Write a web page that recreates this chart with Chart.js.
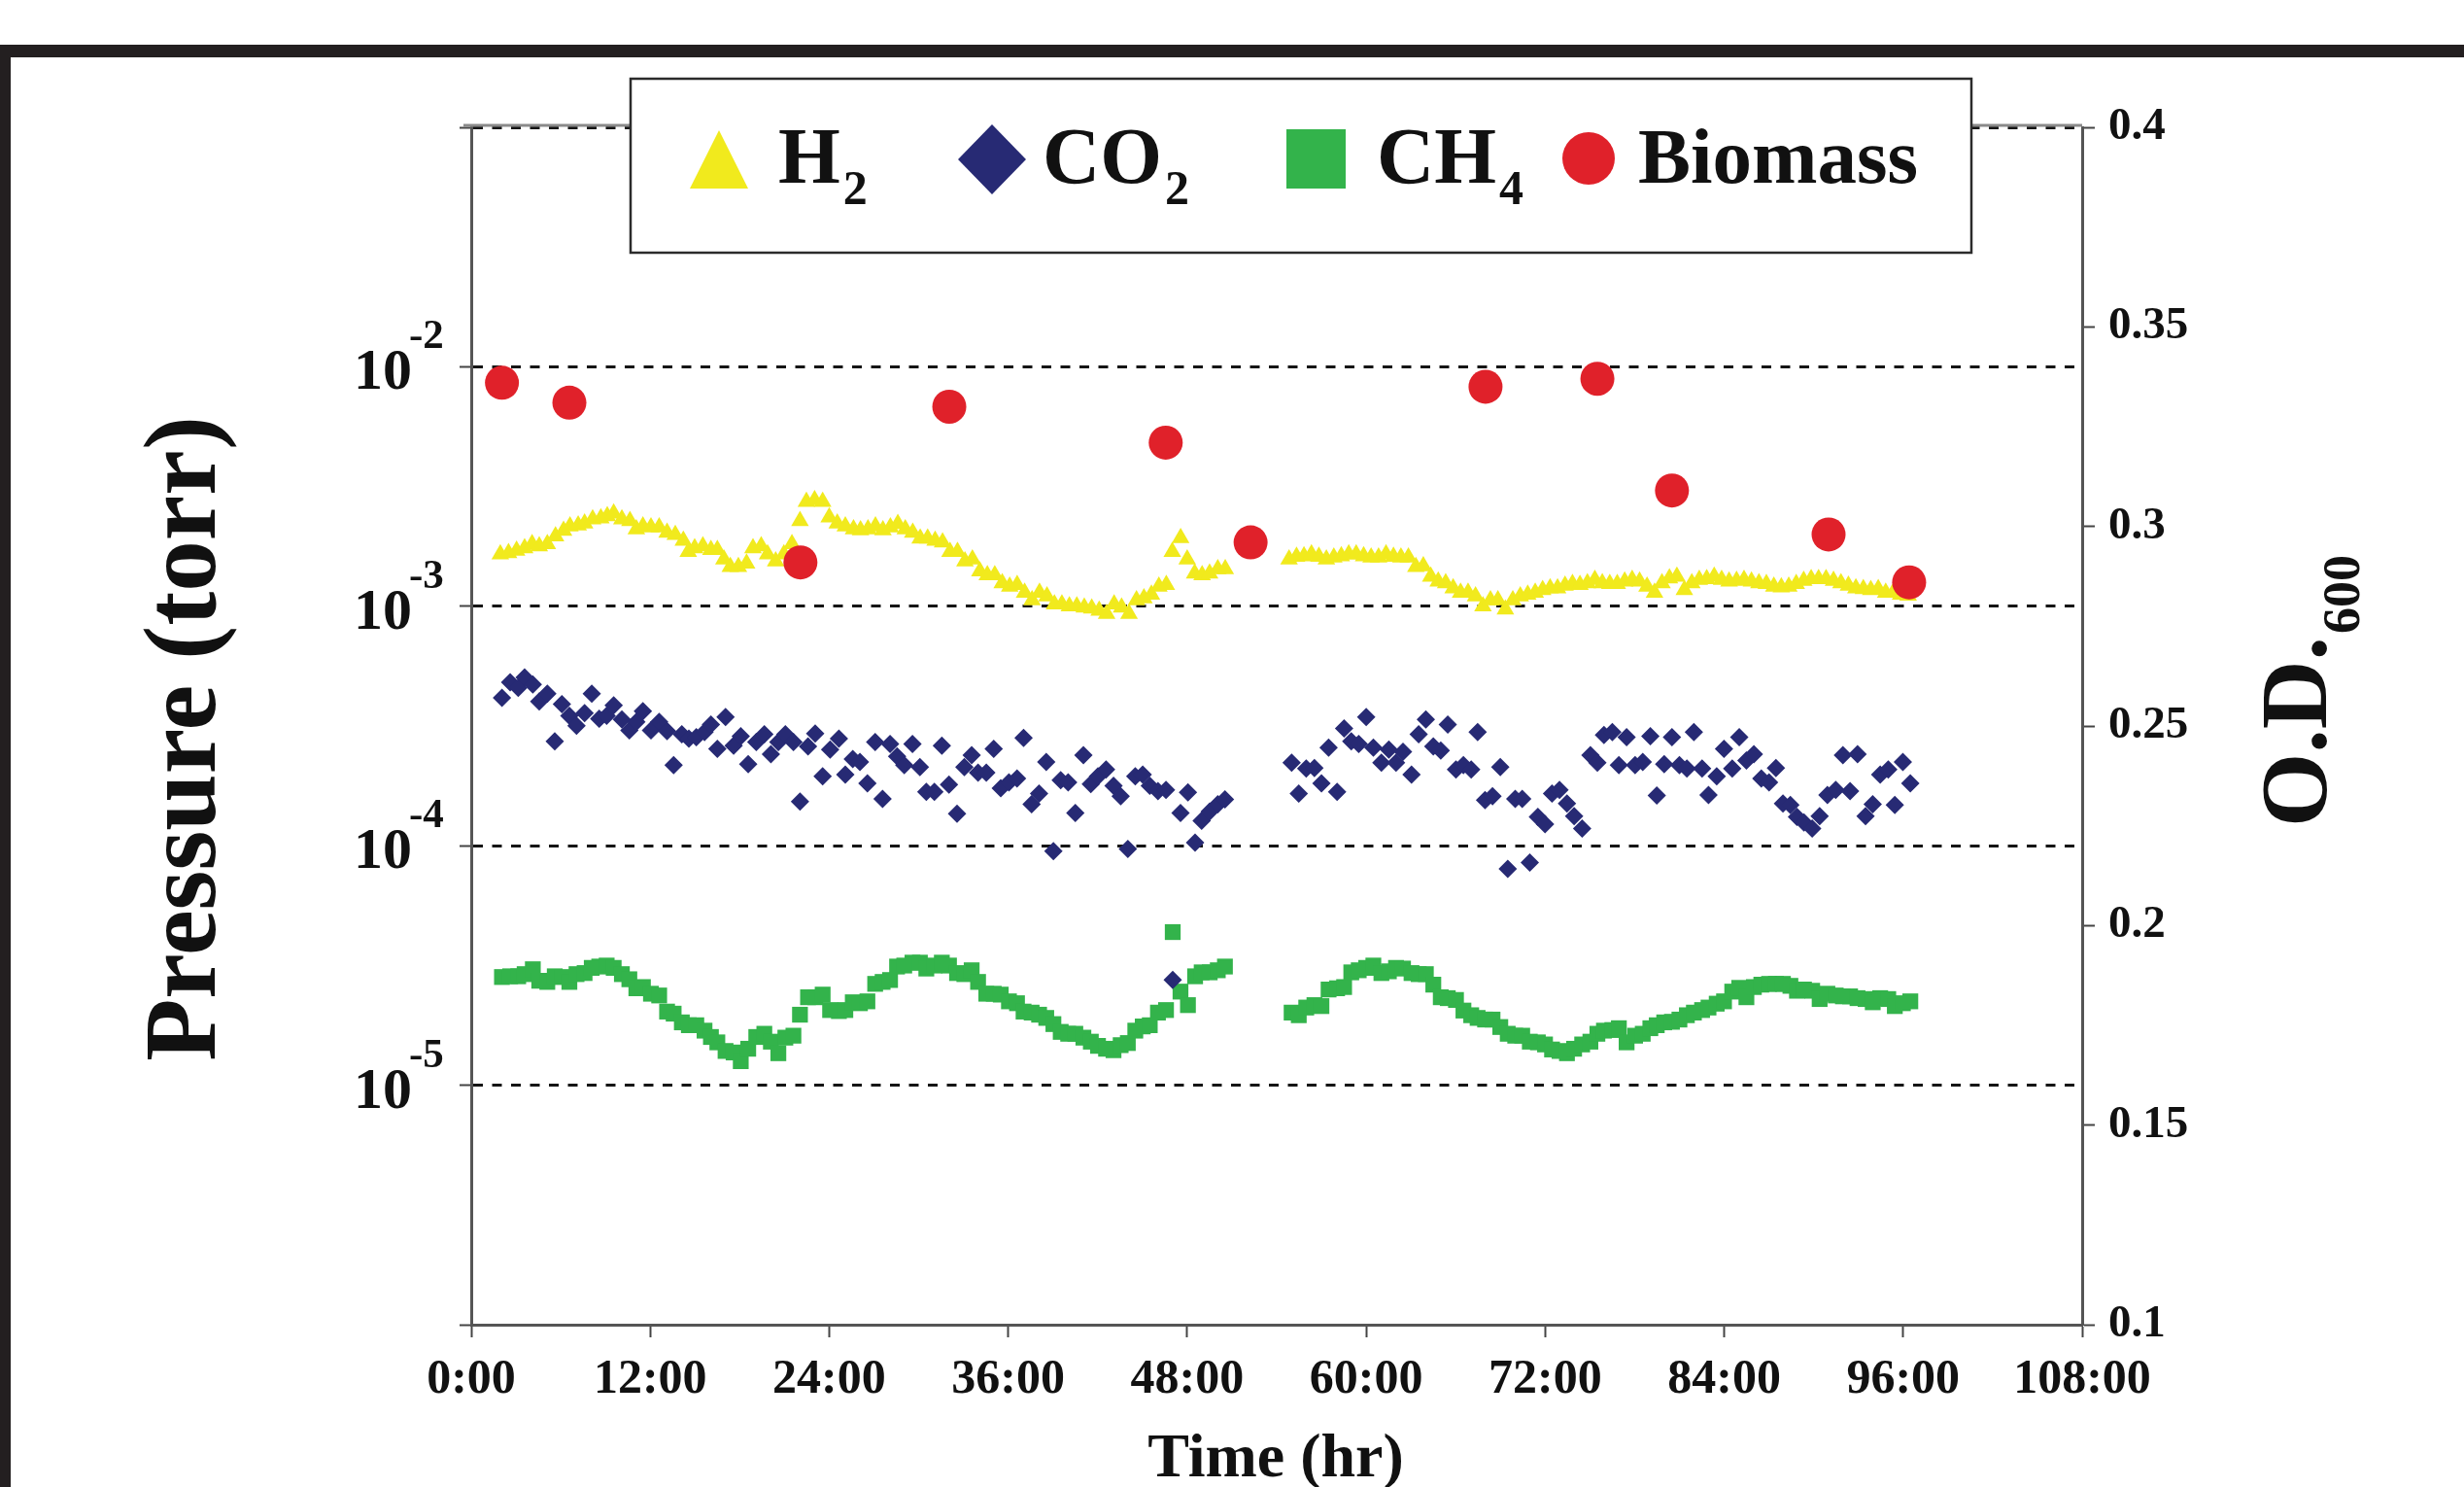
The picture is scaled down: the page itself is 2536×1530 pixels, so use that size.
<!DOCTYPE html>
<html>
<head>
<meta charset="utf-8">
<title>Pressure and biomass vs time</title>
<script src="https://cdn.jsdelivr.net/npm/chart.js@4.4.1/dist/chart.umd.min.js"></script>
<style>
  html, body { margin: 0; padding: 0; background: #fff; overflow: hidden; }
  canvas { display: block; }
</style>
</head>
<body>
<canvas id="chart" width="2536" height="1530"></canvas>
<script>
// time in hours, pressure in torr, biomass as O.D.600
const h2Time = [
  1.95,2.5,3.04,3.58,4.08,4.56,5.1,5.65,6.19,6.62,7.17,7.6,8.14,8.69,9.12,9.55,10.1,10.64,11.07,11.51,
  12.05,12.6,13.13,13.68,14.22,14.55,14.98,15.53,16.07,16.5,16.94,17.37,17.91,18.46,18.89,19.44,19.87,20.41,20.96,21.5,
  22.04,22.47,23.02,23.56,24.0,24.54,25.08,25.63,
  26.1,26.6,27.1,27.6,28.1,28.6,29.1,29.6,30.1,30.6,31.1,31.6,32.1,32.6,33.1,33.6,34.1,34.6,35.1,35.6,
  36.1,36.6,37.1,37.6,38.1,38.6,39.1,39.6,40.1,40.6,41.1,41.6,42.1,42.6,43.1,43.6,44.1,44.6,45.1,45.6,
  46.1,46.6,47.0,47.56,48.0,48.5,49.0,49.5,50.05,50.55,
  54.83,55.33,55.83,56.33,56.83,57.33,57.83,58.33,58.83,59.33,59.83,60.33,60.83,61.33,61.83,62.33,62.83,63.33,63.83,64.33,
  64.83,65.33,65.83,66.33,66.83,67.33,67.83,68.33,68.83,69.33,69.83,70.33,70.83,71.33,71.83,72.33,72.83,73.33,73.83,74.33,
  74.83,75.33,75.83,76.33,76.83,
  77.33,77.83,78.33,78.83,79.33,79.83,80.33,80.83,81.33,81.83,82.33,82.83,83.33,83.83,84.33,84.83,85.33,85.83,86.33,86.83,
  87.33,87.83,88.33,88.83,89.33,89.83,90.33,90.83,91.33,91.83,92.33,92.83,93.33,93.83,94.33,94.83,95.33,95.83,96.33
];
const h2Torr = [
  1.65e-3,1.67e-3,1.71e-3,1.75e-3,1.82e-3,1.78e-3,1.82e-3,1.96e-3,2.07e-3,2.16e-3,2.18e-3,2.22e-3,2.31e-3,2.33e-3,2.38e-3,2.44e-3,2.31e-3,2.27e-3,2.10e-3,2.16e-3,
  2.14e-3,2.14e-3,2.03e-3,1.99e-3,1.88e-3,1.69e-3,1.75e-3,1.78e-3,1.72e-3,1.72e-3,1.57e-3,1.46e-3,1.46e-3,1.51e-3,1.75e-3,1.78e-3,1.65e-3,1.54e-3,1.65e-3,1.82e-3,
  2.27e-3,2.73e-3,2.78e-3,2.73e-3,2.35e-3,2.22e-3,2.16e-3,2.10e-3,
  2.08e-3,2.10e-3,2.16e-3,2.08e-3,2.14e-3,2.21e-3,2.10e-3,2.03e-3,1.92e-3,1.92e-3,1.88e-3,1.85e-3,1.69e-3,1.69e-3,1.54e-3,1.57e-3,1.40e-3,1.35e-3,1.35e-3,1.25e-3,
  1.21e-3,1.23e-3,1.14e-3,1.06e-3,1.14e-3,1.10e-3,1.02e-3,1.02e-3,1.00e-3,1.00e-3,0.99e-3,0.98e-3,0.96e-3,0.93e-3,1.02e-3,0.99e-3,0.93e-3,1.06e-3,1.08e-3,1.12e-3,
  1.21e-3,1.23e-3,1.69e-3,1.93e-3,1.57e-3,1.37e-3,1.35e-3,1.37e-3,1.43e-3,1.43e-3,
  1.57e-3,1.61e-3,1.62e-3,1.65e-3,1.61e-3,1.57e-3,1.60e-3,1.62e-3,1.65e-3,1.65e-3,1.62e-3,1.60e-3,1.60e-3,1.65e-3,1.61e-3,1.60e-3,1.60e-3,1.46e-3,1.47e-3,1.33e-3,
  1.27e-3,1.25e-3,1.19e-3,1.14e-3,1.14e-3,1.10e-3,1.00e-3,1.06e-3,1.06e-3,0.97e-3,1.06e-3,1.10e-3,1.12e-3,1.14e-3,1.17e-3,1.19e-3,1.19e-3,1.22e-3,1.24e-3,1.23e-3,
  1.25e-3,1.29e-3,1.25e-3,1.24e-3,1.24e-3,
  1.27e-3,1.29e-3,1.27e-3,1.21e-3,1.14e-3,1.25e-3,1.31e-3,1.33e-3,1.17e-3,1.25e-3,1.29e-3,1.30e-3,1.33e-3,1.29e-3,1.27e-3,1.28e-3,1.29e-3,1.27e-3,1.25e-3,1.24e-3,
  1.21e-3,1.20e-3,1.21e-3,1.24e-3,1.28e-3,1.30e-3,1.30e-3,1.30e-3,1.28e-3,1.25e-3,1.22e-3,1.19e-3,1.18e-3,1.17e-3,1.18e-3,1.14e-3,1.14e-3,1.12e-3,1.11e-3
];

// CO2 and CH4 were sampled at the same times
const gasTime = [
  2.06,2.61,3.15,3.58,4.13,4.56,5.1,5.6,6.08,6.58,7.06,7.6,8.08,8.58,9.08,9.55,10.1,10.6,11.07,11.51,
  12.05,12.6,13.13,13.57,14.12,14.59,15.09,15.64,16.07,16.5,17.05,17.59,18.07,18.57,19.11,19.65,20.09,20.59,21.06,21.6,
  22.04,22.58,23.06,23.56,24.06,24.65,25.08,25.58,
  26.06,26.56,27.08,27.58,28.08,28.55,29.03,29.58,30.08,30.51,31.05,31.55,32.03,32.57,33.06,33.55,33.98,34.53,35.03,35.5,
  36.05,36.59,37.03,37.57,38.07,38.55,39.03,39.52,40.02,40.5,41.04,41.54,42.02,42.56,43.06,43.54,44.02,44.52,45.02,45.49,
  46.04,46.58,47.03,47.55,48.05,48.53,48.97,49.51,50.05,50.53,
  55.0,55.48,55.98,56.53,57.0,57.48,58.05,58.52,59.0,59.5,60.0,60.48,61.02,61.52,62.0,62.47,63.04,63.52,64.0,64.5,
  65.0,65.47,66.02,66.52,67.04,67.47,67.97,68.47,68.99,69.49,69.99,70.46,70.97,71.51,71.99,72.46,72.96,73.46,73.94,74.48,
  75.03,75.5,75.94,76.5,76.94,
  77.46,78.03,78.54,79.05,79.48,79.98,80.5,81.0,81.5,81.97,82.52,82.95,83.5,83.99,84.54,85.01,85.49,85.99,86.49,87.01,
  87.47,87.94,88.44,88.88,89.35,89.9,90.4,90.92,91.48,91.96,92.44,92.94,93.48,93.96,94.46,95.0,95.44,95.98,96.48
];
const co2Torr = [
  4.15e-4,4.81e-4,4.56e-4,5.05e-4,4.72e-4,4.00e-4,4.31e-4,2.73e-4,3.90e-4,3.49e-4,3.17e-4,3.58e-4,4.31e-4,3.39e-4,3.49e-4,3.86e-4,3.37e-4,3.03e-4,3.29e-4,3.65e-4,
  3.03e-4,3.29e-4,3.01e-4,2.17e-4,2.92e-4,2.80e-4,2.84e-4,2.98e-4,3.21e-4,2.54e-4,3.45e-4,2.62e-4,2.87e-4,2.19e-4,2.71e-4,2.92e-4,2.41e-4,2.71e-4,2.92e-4,2.71e-4,
  1.53e-4,2.60e-4,2.94e-4,1.95e-4,2.52e-4,2.80e-4,1.98e-4,2.30e-4,
  2.24e-4,1.82e-4,2.71e-4,1.57e-4,2.66e-4,2.36e-4,2.17e-4,2.66e-4,2.13e-4,1.68e-4,1.68e-4,2.62e-4,1.80e-4,1.36e-4,2.13e-4,2.39e-4,2.02e-4,2.02e-4,2.54e-4,1.74e-4,
  1.84e-4,1.91e-4,2.82e-4,1.49e-4,1.65e-4,2.24e-4,0.95e-4,1.88e-4,1.84e-4,1.37e-4,2.39e-4,1.81e-4,1.95e-4,2.08e-4,1.78e-4,1.61e-4,0.97e-4,1.95e-4,1.98e-4,1.78e-4,
  1.69e-4,1.71e-4,2.75e-5,1.37e-4,1.67e-4,1.03e-4,1.27e-4,1.39e-4,1.49e-4,1.56e-4,
  2.22e-4,1.65e-4,2.10e-4,2.11e-4,1.82e-4,2.57e-4,1.68e-4,3.09e-4,2.73e-4,2.66e-4,3.45e-4,2.57e-4,2.22e-4,2.52e-4,2.22e-4,2.47e-4,1.98e-4,2.92e-4,3.37e-4,2.60e-4,
  2.50e-4,3.21e-4,2.08e-4,2.17e-4,2.08e-4,2.98e-4,1.55e-4,1.61e-4,2.13e-4,0.80e-4,1.57e-4,1.57e-4,0.85e-4,1.32e-4,1.23e-4,1.65e-4,1.71e-4,1.50e-4,1.33e-4,1.18e-4,
  2.39e-4,2.22e-4,2.90e-4,2.98e-4,2.17e-4,
  2.84e-4,2.17e-4,2.24e-4,2.87e-4,1.62e-4,2.19e-4,2.84e-4,2.17e-4,2.10e-4,2.98e-4,2.10e-4,1.63e-4,1.95e-4,2.54e-4,2.10e-4,2.84e-4,2.27e-4,2.41e-4,1.91e-4,1.84e-4,
  2.11e-4,1.50e-4,1.48e-4,1.32e-4,1.25e-4,1.18e-4,1.33e-4,1.63e-4,1.71e-4,2.39e-4,1.69e-4,2.41e-4,1.33e-4,1.49e-4,1.98e-4,2.08e-4,1.48e-4,2.24e-4,1.82e-4
];
const ch4Torr = [
  2.83e-5,2.85e-5,2.85e-5,2.91e-5,3.05e-5,2.73e-5,2.70e-5,2.85e-5,2.83e-5,2.70e-5,2.91e-5,2.94e-5,3.09e-5,3.13e-5,3.16e-5,3.09e-5,2.91e-5,2.77e-5,2.54e-5,2.57e-5,
  2.41e-5,2.37e-5,2.03e-5,1.99e-5,1.83e-5,1.78e-5,1.78e-5,1.69e-5,1.59e-5,1.51e-5,1.39e-5,1.37e-5,1.26e-5,1.42e-5,1.59e-5,1.64e-5,1.52e-5,1.36e-5,1.58e-5,1.61e-5,
  1.97e-5,2.33e-5,2.33e-5,2.39e-5,2.06e-5,2.04e-5,2.06e-5,2.22e-5,
  2.20e-5,2.24e-5,2.65e-5,2.70e-5,2.75e-5,3.13e-5,3.16e-5,3.25e-5,3.25e-5,3.07e-5,3.16e-5,3.25e-5,3.16e-5,2.94e-5,2.91e-5,3.02e-5,2.70e-5,2.41e-5,2.41e-5,2.39e-5,
  2.24e-5,2.20e-5,2.03e-5,2.01e-5,1.97e-5,1.91e-5,1.80e-5,1.67e-5,1.64e-5,1.64e-5,1.58e-5,1.52e-5,1.46e-5,1.42e-5,1.40e-5,1.47e-5,1.50e-5,1.69e-5,1.76e-5,1.78e-5,
  2.01e-5,2.06e-5,4.36e-5,2.46e-5,2.16e-5,2.85e-5,2.96e-5,2.96e-5,3.02e-5,3.13e-5,
  2.01e-5,1.96e-5,2.11e-5,2.16e-5,2.14e-5,2.51e-5,2.54e-5,2.57e-5,2.96e-5,3.02e-5,3.09e-5,3.16e-5,2.94e-5,2.99e-5,3.09e-5,3.07e-5,2.94e-5,2.91e-5,2.91e-5,2.63e-5,
  2.33e-5,2.31e-5,2.27e-5,2.05e-5,1.96e-5,1.91e-5,1.88e-5,1.88e-5,1.75e-5,1.64e-5,1.61e-5,1.61e-5,1.52e-5,1.51e-5,1.48e-5,1.41e-5,1.39e-5,1.36e-5,1.42e-5,1.48e-5,
  1.52e-5,1.64e-5,1.69e-5,1.70e-5,1.73e-5,
  1.51e-5,1.61e-5,1.64e-5,1.73e-5,1.78e-5,1.83e-5,1.84e-5,1.88e-5,1.96e-5,2.01e-5,2.06e-5,2.11e-5,2.19e-5,2.24e-5,2.46e-5,2.55e-5,2.33e-5,2.57e-5,2.63e-5,2.65e-5,
  2.65e-5,2.65e-5,2.60e-5,2.48e-5,2.51e-5,2.48e-5,2.29e-5,2.41e-5,2.37e-5,2.35e-5,2.35e-5,2.31e-5,2.29e-5,2.22e-5,2.31e-5,2.29e-5,2.14e-5,2.20e-5,2.24e-5
];

const biomassTime = [2.06, 6.58, 22.07, 32.05, 46.56, 52.25, 68.0, 75.5, 80.5, 91.0, 96.4];
const biomassOD = [0.336, 0.331, 0.291, 0.330, 0.321, 0.296, 0.335, 0.337, 0.309, 0.298, 0.286];

const pressureDecades = [1e-6, 1e-5, 1e-4, 1e-3, 1e-2, 1e-1];
const labelledExponents = [-2, -3, -4, -5];

const SERIF = '"Liberation Serif", "Times New Roman", serif';
const YELLOW = '#F1EA1D', NAVY = '#272A74', GREEN = '#33B34B', RED = '#E0212A';

function pairs(xs, ys) {
  return xs.map((x, i) => ({ x: x, y: ys[i] }));
}

// text with a subscript or superscript tail
function drawWithTail(ctx, main, tail, x, y, mainSize, tailSize, dy) {
  ctx.font = 'bold ' + mainSize + 'px ' + SERIF;
  ctx.fillText(main, x, y);
  const w = ctx.measureText(main).width;
  ctx.font = 'bold ' + tailSize + 'px ' + SERIF;
  ctx.fillText(tail, x + w + 3, y + dy);
}

const decor = {
  id: 'decor',
  afterDraw(chart) {
    const ctx = chart.ctx;
    const area = chart.chartArea;
    const yScale = chart.scales.y;
    ctx.save();

    // frame bars of the original figure
    ctx.fillStyle = '#231f20';
    ctx.fillRect(0, 46, 2536, 13);
    ctx.fillRect(0, 46, 11, 1484);

    // top edge of plot
    ctx.strokeStyle = '#8a8a8a';
    ctx.lineWidth = 3;
    ctx.beginPath();
    ctx.moveTo(area.left - 8, area.top - 2);
    ctx.lineTo(area.right, area.top - 2);
    ctx.stroke();

    ctx.fillStyle = '#111';
    ctx.textAlign = 'left';
    ctx.textBaseline = 'alphabetic';

    // left tick labels: 10 with superscript exponent
    labelledExponents.forEach(e => {
      const py = yScale.getPixelForValue(Math.pow(10, e));
      ctx.font = 'bold 60px ' + SERIF;
      ctx.textAlign = 'right';
      ctx.fillText('10', 424, py + 23);
      ctx.textAlign = 'left';
      ctx.font = 'bold 43px ' + SERIF;
      ctx.fillText(String(e), 421, py - 19);
    });

    // left axis title
    ctx.save();
    ctx.translate(194, 760);
    ctx.rotate(-Math.PI / 2);
    ctx.textAlign = 'center';
    ctx.textBaseline = 'middle';
    ctx.font = 'bold 105px ' + SERIF;
    ctx.fillText('Pressure (torr)', 0, 0);
    ctx.restore();

    // right axis title
    ctx.save();
    ctx.translate(2394, 851);
    ctx.rotate(-Math.PI / 2);
    drawWithTail(ctx, 'O.D.', '600', 0, 0, 98, 54, 34);
    ctx.restore();

    // x axis title
    ctx.textAlign = 'center';
    ctx.font = 'bold 64px ' + SERIF;
    ctx.fillText('Time (hr)', 1313, 1519);

    // legend box
    ctx.fillStyle = '#fff';
    ctx.fillRect(649, 81, 1380, 179);
    ctx.strokeStyle = '#2b2b2b';
    ctx.lineWidth = 2.5;
    ctx.strokeRect(649, 81, 1380, 179);

    ctx.fillStyle = YELLOW;
    ctx.beginPath();
    ctx.moveTo(740, 134); ctx.lineTo(770, 194); ctx.lineTo(710, 194);
    ctx.closePath(); ctx.fill();

    ctx.fillStyle = NAVY;
    ctx.beginPath();
    ctx.moveTo(1021, 128); ctx.lineTo(1056, 164); ctx.lineTo(1021, 200); ctx.lineTo(986, 164);
    ctx.closePath(); ctx.fill();

    ctx.fillStyle = GREEN;
    ctx.fillRect(1324, 133, 61, 61);

    ctx.fillStyle = RED;
    ctx.beginPath();
    ctx.arc(1635, 163, 27, 0, Math.PI * 2);
    ctx.fill();

    ctx.fillStyle = '#111';
    ctx.textAlign = 'left';
    drawWithTail(ctx, 'H', '2', 801, 188, 82, 50, 22);
    drawWithTail(ctx, 'CO', '2', 1073, 188, 82, 50, 22);
    drawWithTail(ctx, 'CH', '4', 1417, 188, 82, 50, 22);
    ctx.font = 'bold 81px ' + SERIF;
    ctx.fillText('Biomass', 1686, 188);

    ctx.restore();
  }
};

new Chart(document.getElementById('chart'), {
  type: 'scatter',
  data: {
    datasets: [
      { label: 'Biomass', data: pairs(biomassTime, biomassOD), yAxisID: 'y2', order: 0,
        pointStyle: 'circle', pointRadius: 17.5, backgroundColor: RED, borderColor: RED, borderWidth: 0 },
      { label: 'CO2', data: pairs(gasTime, co2Torr), yAxisID: 'y', order: 1,
        pointStyle: 'rectRot', pointRadius: 9.5, backgroundColor: NAVY, borderColor: NAVY, borderWidth: 0 },
      { label: 'CH4', data: pairs(gasTime, ch4Torr), yAxisID: 'y', order: 2,
        pointStyle: 'rect', pointRadius: 11.5, backgroundColor: GREEN, borderColor: GREEN, borderWidth: 0 },
      { label: 'H2', data: pairs(h2Time, h2Torr), yAxisID: 'y', order: 3,
        pointStyle: 'triangle', pointRadius: 10.5, backgroundColor: YELLOW, borderColor: YELLOW, borderWidth: 0 }
    ]
  },
  options: {
    responsive: false,
    animation: false,
    devicePixelRatio: 1,
    layout: { padding: { top: 131, left: 0, right: 0, bottom: 0 } },
    plugins: { legend: { display: false }, tooltip: { enabled: false } },
    scales: {
      x: {
        type: 'linear', min: 0, max: 108,
        afterFit: s => { s.height = 167; },
        ticks: { stepSize: 12, callback: v => v + ':00', color: '#111', padding: 14,
          maxRotation: 0, autoSkip: false, font: { family: SERIF, weight: 'bold', size: 50 } },
        grid: { drawOnChartArea: false, tickLength: 13, tickColor: '#444', tickWidth: 2 },
        border: { color: '#555', width: 3 }
      },
      y: {
        type: 'logarithmic', position: 'left', min: 1e-6, max: 1e-1,
        afterFit: s => { s.width = 485; },
        afterBuildTicks: s => { s.ticks = pressureDecades.map(v => ({ value: v })); },
        ticks: { display: false },
        grid: {
          color: c => (c.tick && c.tick.value < 2e-6) ? 'rgba(0,0,0,0)' : '#151515',
          lineWidth: 3, tickLength: 12, tickColor: '#444', tickWidth: 2
        },
        border: { color: '#555', width: 3, dash: [10, 9.5] }
      },
      y2: {
        type: 'linear', position: 'right', min: 0.1, max: 0.4,
        afterFit: s => { s.width = 393; },
        ticks: { stepSize: 0.05, callback: v => String(Number(v.toFixed(2))), color: '#111', padding: 14,
          font: { family: SERIF, weight: 'bold', size: 47 } },
        grid: { drawOnChartArea: false, tickLength: 13, tickColor: '#444', tickWidth: 2 },
        border: { color: '#555', width: 3 }
      }
    }
  },
  plugins: [decor]
});
</script>
</body>
</html>
